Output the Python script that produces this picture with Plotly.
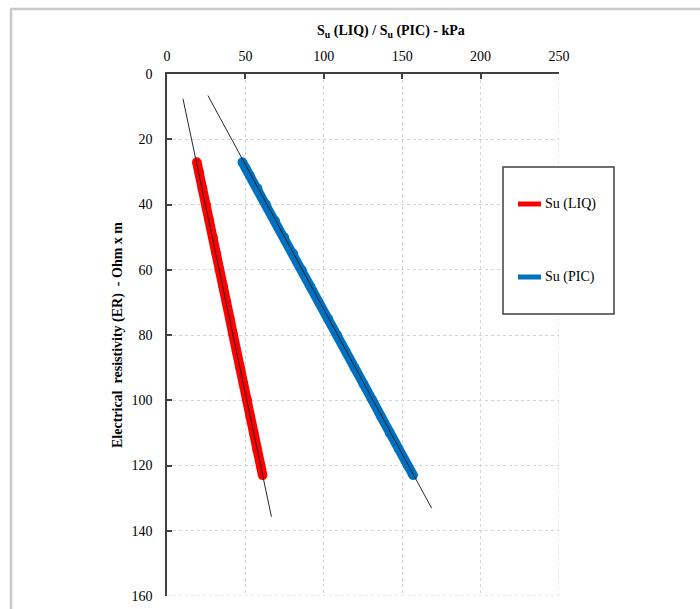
import plotly.graph_objects as go

# ---------------- data ----------------
liq_er = [27, 30, 35, 40, 45, 50, 55, 60, 65, 70, 75, 80, 85, 90, 95, 100, 105, 110, 115, 120, 123]
liq_su = [19.0, 20.4, 22.6, 24.9, 27.0, 29.3, 31.4, 33.4, 35.8, 37.9, 40.1, 42.2, 44.3, 46.6, 48.8, 51.2, 53.1, 55.3, 57.4, 59.7, 61.0]

pic_er = [27, 29, 31, 35, 40, 45, 50, 55, 60, 65, 70, 75, 80, 85, 90, 95, 100, 105, 110, 115, 120, 123]
pic_su = [48.0, 50.3, 52.8, 57.8, 63.3, 69.0, 74.8, 80.5, 86.0, 91.3, 97.0, 102.8, 108.5, 114.0, 119.5, 125.3, 131.0, 136.5, 142.0, 147.8, 153.5, 157.0]

liq_trend_er = [7.6, 135.7]
liq_trend_su = [10.2, 66.6]
pic_trend_er = [6.6, 133.1]
pic_trend_su = [26.1, 168.8]

x_ticks = [0, 50, 100, 150, 200, 250]
y_ticks = [0, 20, 40, 60, 80, 100, 120, 140, 160]
series_names = ["Su (LIQ)", "Su (PIC)"]
series_colors = ["#ff0000", "#0070c0"]

# ---------------- layout constants ----------------
W, H = 700, 609
ML, MR, MT, MB = 167, 141, 74, 13
PW, PH = W - ML - MR, H - MT - MB


def px(xp):
    return (xp - ML) / PW


def py(yp):
    return 1 - (yp - MT) / PH


FONT = "Liberation Serif, Times New Roman, serif"

fig = go.Figure()

for xs, ys, c in [(liq_su, liq_er, series_colors[0]), (pic_su, pic_er, series_colors[1])]:
    fig.add_trace(go.Scatter(x=xs, y=ys, mode="lines+markers",
                             line=dict(color=c, width=9.5),
                             marker=dict(color=c, size=9.5),
                             showlegend=False, hoverinfo="skip"))

for xs, ys in [(liq_trend_su, liq_trend_er), (pic_trend_su, pic_trend_er)]:
    fig.add_trace(go.Scatter(x=xs, y=ys, mode="lines",
                             line=dict(color="#262626", width=1),
                             showlegend=False, hoverinfo="skip"))

axis_common = dict(
    showgrid=True, gridcolor="#d4d4d4", gridwidth=1, griddash="3px,3px",
    showline=True, linecolor="#404040", linewidth=1.5,
    ticks="inside", ticklen=5, tickcolor="#404040", tickwidth=1.5,
    zeroline=False, automargin=False,
    tickfont=dict(family=FONT, size=14, color="#000000"),
)

fig.update_layout(
    width=W, height=H,
    margin=dict(l=ML, r=MR, t=MT, b=MB, autoexpand=False),
    paper_bgcolor="white", plot_bgcolor="white",
    xaxis=dict(range=[0, 250], side="top", tickvals=x_ticks,
               ticklabelstandoff=6,
               **axis_common),
    yaxis=dict(range=[160, 0], tickvals=y_ticks,
               title=dict(text="<b>Electrical  resistivity (ER)  - Ohm x m</b>",
                          font=dict(family=FONT, size=14, color="#000000"),
                          standoff=6),
               ticklabelstandoff=10,
               **axis_common),
    showlegend=False,
)

# x-axis title (offset to the right as in the reference)
fig.add_annotation(x=px(391), y=py(32), xref="paper", yref="paper",
                   text="<b>S<sub>u</sub> (LIQ) / S<sub>u</sub> (PIC) - kPa</b>",
                   showarrow=False, xanchor="center", yanchor="middle",
                   font=dict(family=FONT, size=14, color="#000000"))

shapes = []
# outer frame
shapes.append(dict(type="line", xref="paper", yref="paper",
                   x0=px(10), x1=px(700), y0=py(9), y1=py(9),
                   line=dict(color="#c8c8c8", width=2.5)))
shapes.append(dict(type="line", xref="paper", yref="paper",
                   x0=px(11), x1=px(11), y0=py(9), y1=py(609),
                   line=dict(color="#c8c8c8", width=2.5)))
# edge gridlines
shapes.append(dict(type="line", xref="x", yref="paper", x0=250, x1=250, y0=0, y1=1,
                   line=dict(color="#d4d4d4", width=1, dash="3px,3px")))
shapes.append(dict(type="line", xref="paper", yref="y", x0=0, x1=1, y0=160, y1=160,
                   line=dict(color="#d4d4d4", width=1, dash="3px,3px")))
# legend box
shapes.append(dict(type="rect", xref="paper", yref="paper",
                   x0=px(503), x1=px(614), y0=py(314), y1=py(167),
                   line=dict(color="#404040", width=1.5), fillcolor="white"))
legend_y = [204, 277]
for ly, c, name in zip(legend_y, series_colors, series_names):
    shapes.append(dict(type="line", xref="paper", yref="paper",
                       x0=px(518), x1=px(541), y0=py(ly), y1=py(ly),
                       line=dict(color=c, width=5)))
    fig.add_annotation(x=px(543), y=py(ly), xref="paper", yref="paper",
                       text=name, showarrow=False, xanchor="left", yanchor="middle",
                       font=dict(family=FONT, size=14, color="#000000"))
fig.update_layout(shapes=shapes)

fig.write_html("out.html", config={"displayModeBar": False},
               post_script="document.body.style.margin='0';document.body.style.padding='0';")
